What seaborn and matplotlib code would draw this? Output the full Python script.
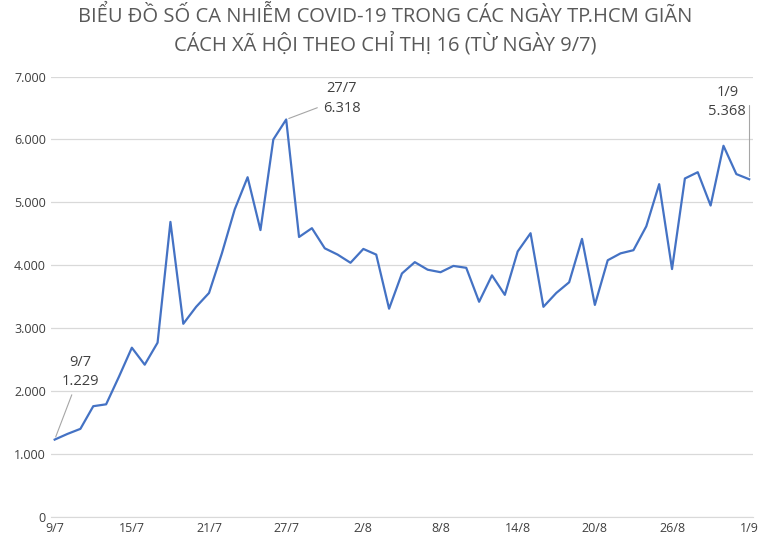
import matplotlib
matplotlib.use("Agg")
import matplotlib.pyplot as plt
import seaborn as sns
import pandas as pd
from matplotlib.ticker import FuncFormatter

dates = (["%d/7" % d for d in range(9, 32)] + ["%d/8" % d for d in range(1, 32)] + ["1/9"])
cases = [1229, 1320, 1400, 1760, 1790, 2230, 2690, 2420, 2770, 4690,
         3070, 3340, 3560, 4190, 4890, 5400, 4560, 6000, 6318, 4450,
         4590, 4270, 4170, 4040, 4260, 4170, 3310, 3870, 4050, 3930,
         3890, 3990, 3960, 3420, 3840, 3530, 4220, 4510, 3340, 3560,
         3730, 4420, 3370, 4080, 4190, 4240, 4620, 5290, 3940, 5380,
         5480, 4950, 5900, 5450, 5368]
tick_idx = [0, 6, 12, 18, 24, 30, 36, 42, 48, 54]

df = pd.DataFrame({"i": range(len(dates)), "date": dates, "cases": cases})
plt.rcParams["font.family"] = "Open Sans"
fig, ax = plt.subplots(figsize=(7.7, 5.47), dpi=100)
fig.subplots_adjust(left=0.066, right=0.978, top=0.86, bottom=0.055)
sns.lineplot(data=df, x="i", y="cases", color="#4472C4", linewidth=1.6, ax=ax)
ax.set_ylim(0, 7000)
ax.set_xlim(-0.3, 54.3)
ax.set_yticks(range(0, 7001, 1000))
ax.yaxis.set_major_formatter(FuncFormatter(lambda v, p: f"{int(v):,}".replace(",", ".")))
ax.set_xticks(tick_idx)
ax.set_xticklabels([dates[i] for i in tick_idx])
ax.tick_params(labelsize=9, colors="#404040", length=0)
ax.grid(axis="y", color="#d9d9d9", linewidth=0.9)
for s in ["top", "right", "left"]:
    ax.spines[s].set_visible(False)
ax.spines["bottom"].set_color("#d9d9d9")
ax.set_xlabel("")
ax.set_ylabel("")
fig.suptitle("BIỂU ĐỒ SỐ CA NHIỄM COVID-19 TRONG CÁC NGÀY TP.HCM GIÃN\nCÁCH XÃ HỘI THEO CHỈ THỊ 16 (TỪ NGÀY 9/7)",
             fontsize=14.5, color="#595959", y=0.99, linespacing=1.3)

def lab(i, xt, yt, ha):
    v = cases[i]
    ax.annotate(f"{dates[i]}\n{v:,}".replace(",", "."), xy=(i, v), xytext=(xt, yt),
                ha=ha, va="center", fontsize=10.5, color="#404040", linespacing=1.4,
                arrowprops=dict(arrowstyle="-", color="#a6a6a6", lw=0.8))
lab(0, 2.0, 2300, "center")
lab(18, 22.3, 6650, "center")
ax.annotate("1/9\n5.368", xy=(54, cases[54]), xytext=(52.3, 6600), ha="center", va="center",
            fontsize=10.5, color="#404040", linespacing=1.4,
            arrowprops=dict(arrowstyle="-", color="#a6a6a6", lw=0.8,
                            connectionstyle="angle,angleA=0,angleB=90,rad=0"))
fig.savefig("out.png", dpi=100)
